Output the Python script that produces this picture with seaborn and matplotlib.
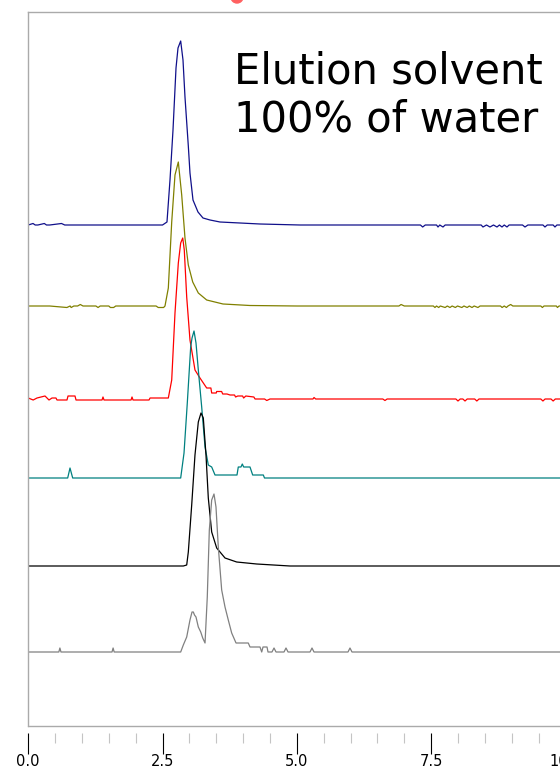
import numpy as np
import pandas as pd
import matplotlib
matplotlib.use("Agg")
import matplotlib.pyplot as plt
import seaborn as sns
from matplotlib.ticker import FixedLocator, MultipleLocator
from matplotlib.patches import Ellipse

sns.set_style("ticks")
plt.rcParams["font.family"] = ["DejaVu Sans"]

# ---- data: (retention time, signal above own baseline) ----
NAVY = [(0, 0), (0.09, 1.5), (0.13, 0), (0.18, 0), (0.30, 1.5), (0.34, 0), (0.40, 0),
        (0.62, 1.5), (0.68, 0), (2.50, 0), (2.583, 3), (2.639, 45), (2.695, 95),
        (2.751, 157), (2.788, 177), (2.838, 184), (2.881, 165), (2.918, 128),
        (2.980, 79), (3.011, 52), (3.067, 25), (3.160, 13), (3.253, 7), (3.384, 5),
        (3.570, 3), (3.942, 2), (4.314, 1), (5.06, 0), (7.30, 0), (7.342, -2),
        (7.39, 0), (7.60, 0), (7.627, -2), (7.66, 0), (7.72, -2), (7.76, 0),
        (8.43, 0), (8.464, -2), (8.53, 0), (8.594, -2), (8.66, 0), (8.725, -2),
        (8.77, 0), (8.818, -2), (8.86, 0), (8.911, -2), (8.95, 0), (9.20, 0),
        (9.246, -2), (9.30, 0), (9.58, 0), (9.618, -2), (9.66, 0), (9.77, 0),
        (9.804, -2), (9.84, 0), (12, 0)]

OLIVE = [(0, 0), (0.40, 0), (0.72, -1.5), (0.78, 0), (0.80, -1.5), (0.85, 0),
         (0.92, 0), (0.97, 1.5), (1.02, 0), (1.26, 0), (1.30, -1.5), (1.34, 0),
         (1.50, 0), (1.53, -1.5), (1.59, -1.5), (1.63, 0), (2.38, 0), (2.42, -1.5),
         (2.52, -1.5), (2.546, 0), (2.608, 18), (2.671, 84), (2.732, 131),
         (2.794, 144), (2.857, 111), (2.918, 68), (2.980, 41), (3.062, 24),
         (3.166, 13), (3.322, 6), (3.626, 2), (4.128, 0.5), (5.0, 0), (6.90, 0),
         (6.94, 1.5), (7.00, 0), (7.54, 0), (7.57, -1.5), (7.60, 0), (7.64, -1.5),
         (7.67, 0), (7.76, -1.5), (7.80, 0), (7.85, -1.5), (7.89, 0), (7.95, -1.5),
         (7.99, 0), (8.07, -1.5), (8.11, 0), (8.17, -1.5), (8.21, 0), (8.26, -1.5),
         (8.30, 0), (8.37, -1.5), (8.41, 0), (8.79, 0), (8.82, -1.5), (8.86, 0),
         (8.90, -1.5), (8.93, 0), (8.98, 1.5), (9.02, 0), (9.54, 0), (9.57, -1.5),
         (9.60, 0), (9.83, 0), (9.85, -1.5), (9.88, 0), (12, 0)]

RED = [(0, 1), (0.093, -1), (0.164, 1), (0.313, 3), (0.350, 1), (0.387, -1),
       (0.443, 1), (0.517, 1), (0.536, -1), (0.722, -1), (0.741, 3), (0.871, 3),
       (0.890, -1), (1.374, -1), (1.392, 2), (1.411, -1), (1.914, -1), (1.932, 2),
       (1.951, -1), (2.249, -1), (2.268, 1), (2.608, 1), (2.671, 19), (2.732, 86),
       (2.794, 136), (2.838, 156), (2.876, 161), (2.905, 149), (2.950, 102),
       (3.011, 59), (3.104, 29), (3.197, 21), (3.322, 11), (3.40, 11), (3.415, 6),
       (3.50, 6), (3.508, 7.5), (3.60, 7.5), (3.62, 5), (3.70, 5), (3.756, 4),
       (3.84, 4), (3.86, 2), (3.90, 3), (3.99, 3), (4.01, 1), (4.05, 3), (4.20, 2),
       (4.222, 0), (4.40, 0), (4.44, -1.5), (4.50, 0), (5.30, 0), (5.32, 1.5),
       (5.35, 0), (6.60, 0), (6.64, -1.5), (6.68, 0), (7.96, 0), (7.999, -2),
       (8.04, 0), (8.09, 0), (8.13, -2), (8.17, 0), (8.31, 0), (8.35, -2),
       (8.39, 0), (9.54, 0), (9.58, -2), (9.62, 0), (9.73, 0), (9.77, -2),
       (9.81, 0), (12, 0)]

TEAL = [(0, 0), (0.735, 0), (0.778, 10), (0.828, 0), (2.838, 0), (2.900, 25),
        (2.961, 75), (3.024, 131), (3.049, 140), (3.086, 147), (3.123, 135),
        (3.166, 108), (3.229, 71), (3.291, 31), (3.352, 13), (3.415, 11),
        (3.477, 3), (3.886, 3), (3.910, 11), (3.96, 11), (3.985, 14), (4.01, 11),
        (4.128, 11), (4.178, 3), (4.376, 3), (4.398, 0), (12, 0)]

BLACK = [(0, 0), (2.887, 0), (2.950, 1), (2.980, 14), (3.043, 61), (3.104, 111),
         (3.166, 144), (3.216, 153), (3.259, 148), (3.309, 111), (3.352, 68),
         (3.415, 34), (3.508, 18), (3.663, 8), (3.880, 4), (4.253, 2), (4.873, 0),
         (12, 0)]

GRAY = [(0, 0), (0.57, 0), (0.59, 4), (0.61, 0), (1.56, 0), (1.58, 4), (1.60, 0),
        (2.838, 0), (2.887, 7), (2.950, 15), (3.011, 32), (3.049, 40), (3.073, 40),
        (3.095, 37), (3.123, 35), (3.166, 25), (3.211, 20), (3.248, 14),
        (3.291, 9), (3.333, 55), (3.371, 122), (3.415, 152), (3.458, 158),
        (3.495, 145), (3.538, 105), (3.601, 62), (3.663, 45), (3.724, 32),
        (3.787, 19), (3.868, 9), (4.096, 9), (4.128, 5), (4.314, 5), (4.346, 0),
        (4.370, 5), (4.445, 5), (4.463, 0), (4.537, 0), (4.575, 4), (4.612, 0),
        (4.761, 0), (4.798, 4), (4.836, 0), (5.245, 0), (5.282, 4), (5.319, 0),
        (5.952, 0), (5.989, 4), (6.026, 0), (12, 0)]

TRACES = [NAVY, OLIVE, RED, TEAL, BLACK, GRAY]
OFFSETS = [501, 420, 327, 248, 160, 74]
COLORS = ["#10108a", "#808000", "#ff0000", "#008080", "#000000", "#808080"]

X_TICKS = [0, 2.5, 5.0, 7.5, 10.0]
X_TICK_LABELS = ["0.0", "2.5", "5.0", "7.5", "10.0"]
ANNOTATION = "Elution solvent\n100% of water"

# ---- figure ----
W, H = 560, 769
fig = plt.figure(figsize=(W / 100, H / 100), dpi=100)
px_per_unit = 53.73
ax = fig.add_axes([28.2 / W, 43 / H, 12 * px_per_unit / W, 714 / H])

for pts, off, col in zip(TRACES, OFFSETS, COLORS):
    df = pd.DataFrame(pts, columns=["t", "s"])
    df["s"] = df["s"] + off
    sns.lineplot(data=df, x="t", y="s", ax=ax, color=col, lw=0.9,
                 sort=False, estimator=None)

ax.set_xlim(0, 12)
ax.set_ylim(0, 714)
ax.set_xlabel("")
ax.set_ylabel("")
ax.set_yticks([])

frame = "#aaaaaa"
for side in ["top", "left", "right"]:
    ax.spines[side].set_color(frame)
    ax.spines[side].set_linewidth(1.0)
ax.spines["bottom"].set_position(("outward", 5))
ax.spines["bottom"].set_visible(False)
ax.plot([0, 1], [0, 0], transform=ax.transAxes, color=frame, lw=1.0, clip_on=False)

ax.xaxis.set_major_locator(FixedLocator(X_TICKS))
ax.set_xticklabels(X_TICK_LABELS)
ax.xaxis.set_minor_locator(MultipleLocator(0.5))
ax.tick_params(axis="x", which="major", direction="out", length=15.0, width=0.8,
               color="black", pad=0, labelsize=10.5, labelcolor="black")
ax.tick_params(axis="x", which="minor", direction="out", length=7.5, width=0.8,
               color="#c4c4c4")

fig.text(234 / W, 1 - 50 / H, ANNOTATION, fontsize=30, va="top", ha="left",
         linespacing=1.2, color="black")

fig.add_artist(Ellipse((237 / W, 1 + 3 / H), 12 / W, 12 / H,
                       transform=fig.transFigure, color="#ff6060", clip_on=True))

fig.savefig("out.png", dpi=100)
